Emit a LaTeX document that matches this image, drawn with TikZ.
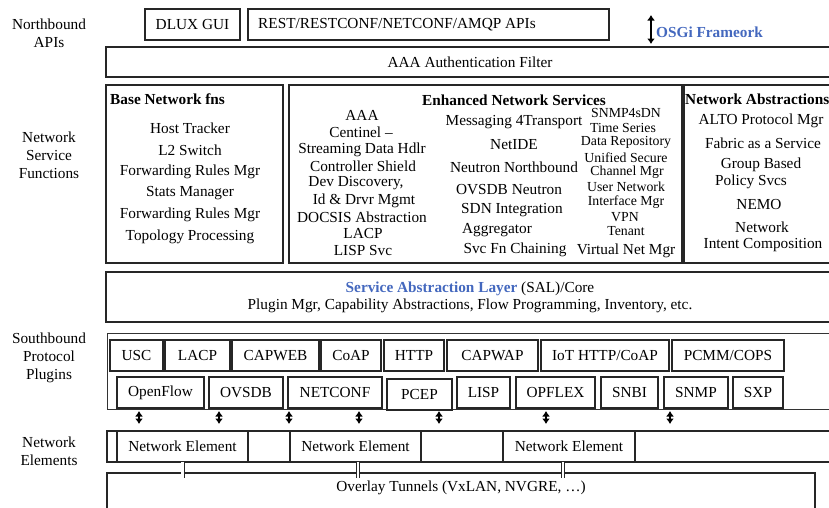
\documentclass[tikz,border=0pt]{standalone}
\usepackage{fontspec}
\setmainfont{Liberation Serif}
\usetikzlibrary{arrows.meta}
\definecolor{osgiblue}{RGB}{68,104,190}

\begin{document}
\begin{tikzpicture}[x = 1pt, y = -1pt,
    every node/.style = {font = \fontsize{15.3}{17}\selectfont, inner sep = 0pt},
    box/.style = {draw = black!85, line width = 2pt, outer sep = 0pt, anchor = north west},
    thinbox/.style = {draw = black!80, line width = 0.9pt, outer sep = 0pt, anchor = north west},
    ttl/.style = {font = \fontsize{15.3}{17}\selectfont\bfseries},
    tight/.style = {font = \fontsize{13.8}{15}\selectfont},
    side/.style = {align = center, font = \fontsize{15.3}{18}\selectfont},
    updown/.style = {{Latex[length = 5.5pt, width = 8pt]}-{Latex[length = 5.5pt, width = 8pt]}, line width = 2pt},
    tunnel/.style = {draw = black!85, double = white, double distance = 2.2pt, line width = 0.9pt}]
    \useasboundingbox (0,0) rectangle (829,507);

    % layer names on the left
    \node[side] (nbapi) at (49,33) {Northbound\\APIs};
    \node[side] (nsf) at (49,155) {Network\\Service\\Functions};
    \node[side] (sbp) at (49,358) {Southbound\\Protocol\\Plugins};
    \node[side] (nel) at (49,451) {Network\\Elements};

    % northbound
    \node[box, minimum width = 95, minimum height = 31] (dlux) at (145,9) {DLUX GUI};
    \node[box, minimum width = 361, minimum height = 31] (rest) at (248,9) {};
    \node[anchor = west] (resttxt) at (258,25) {REST/RESTCONF/NETCONF/AMQP APIs};
    \node[ttl, anchor = west, text = osgiblue] (osgi) at (656,32) {OSGi Frameork};
    \coordinate (osgitop) at (651,15);
    \coordinate (osgibot) at (651,44);
    \draw[updown] (osgitop) -- (osgibot);
    \node[box, minimum width = 728, minimum height = 30] (aaa) at (106,47) {AAA Authentication Filter};

    % network service functions
    \node[box, minimum width = 177, minimum height = 178] (base) at (106,85) {};
    \node[box, minimum width = 393, minimum height = 178] (enh) at (289,85) {};
    \node[box, minimum width = 150, minimum height = 178] (abs) at (684,85) {};
    \node[ttl, anchor = west] (basettl) at (110,99) {Base Network fns};
    \node[ttl] (enhttl) at (514,100) {Enhanced Network Services};
    \node[ttl, anchor = west] (absttl) at (685,99) {Network Abstractions};
    \foreach \fn [count = \i] in {Host Tracker, L2 Switch, Forwarding Rules Mgr,
        Stats Manager, Forwarding Rules Mgr, Topology Processing}
        \node (base\i) at (190, 106.2 + 21.8*\i) {\fn};
    \foreach \x/\y/\fn [count = \i] in {362/115/AAA, 361/132/Centinel –,
        362/150/Streaming Data Hdlr, 363/166/Controller Shield, 356/183/{Dev Discovery,},
        364/201/Id \& Drvr Mgmt, 362/217/DOCSIS Abstraction, 363/234/LACP, 363/251/LISP Svc}
        \node (enha\i) at (\x,\y) {\fn};
    \foreach \x/\y/\fn [count = \i] in {514/122/Messaging 4Transport, 514/145/NetIDE,
        514/167/Neutron Northbound, 509/190/OVSDB Neutron, 512/210/SDN Integration,
        497/230/Aggregator, 515/250/Svc Fn Chaining}
        \node (enhb\i) at (\x,\y) {\fn};
    \foreach \x/\y/\fn [count = \i] in {626/113/SNMP4sDN, 623/127.8/Time Series,
        626/142.6/Data Repository, 626/157.4/Unified Secure, 627/172.2/Channel Mgr,
        626/187/User Network, 626/201.8/Interface Mgr, 625/216.6/VPN, 626/231.4/Tenant}
        \node[tight] (enhc\i) at (\x,\y) {\fn};
    \node (enhc10) at (626,251) {Virtual Net Mgr};
    \foreach \x/\y/\fn [count = \i] in {761/121/ALTO Protocol Mgr, 763/143/Fabric as a Service,
        761/165/Group Based, 751/182/Policy Svcs, 759/205/NEMO, 762/227/Network,
        763/245/Intent Composition}
        \node (abs\i) at (\x,\y) {\fn};

    % SAL
    \node[box, minimum width = 728, minimum height = 50, align = center] (sal) at (106,272)
        {{\bfseries\color{osgiblue}Service Abstraction Layer} (SAL)/Core\\
         Plugin Mgr, Capability Abstractions, Flow Programming, Inventory, etc.};

    % southbound plugins
    \node[thinbox, minimum width = 727, minimum height = 76] (sbi) at (107,333) {};
    \foreach \x/\w/\fn [count = \i] in {110/53/USC, 165/65/LACP, 232/87/CAPWEB,
        321/60/CoAP, 384/60/HTTP, 447/91/CAPWAP, 541/128/{IoT HTTP/CoAP}, 672/112/{PCMM/COPS}}
        \node[box, minimum width = \w, minimum height = 31] (pa\i) at (\x,340) {\fn};
    \foreach \x/\y/\w/\fn [count = \i] in {117/377/87/OpenFlow, 209/377/74/OVSDB,
        288/377/94/NETCONF, 387/379/65/PCEP, 457/377/53/LISP, 516/377/79/OPFLEX,
        601/377/57/SNBI, 664/377/64/SNMP, 733/377/50/SXP}
        \node[box, minimum width = \w, minimum height = 31] (pb\i) at (\x,\y) {\fn};
    \foreach \x [count = \i] in {139, 219, 289, 359, 439, 546, 670} {
        \coordinate (up\i) at (\x,411);
        \coordinate (dn\i) at (\x,424);
        \draw[updown] (up\i) -- (dn\i);
    }

    % network elements
    \node[box, minimum width = 727, minimum height = 31] (nebar) at (107,431) {};
    \foreach \x/\w [count = \i] in {117/131, 290/131, 503/132}
        \node[box, minimum width = \w, minimum height = 31] (ne\i) at (\x,431) {Network Element};
    \node[box, minimum width = 708, minimum height = 45] (ovl) at (107,473) {};
    \node (ovltxt) at (461,488) {Overlay Tunnels (VxLAN, NVGRE, …)};
    \foreach \dx [count = \i] in {0, 2.5, -6}
        \draw[tunnel] ([xshift = \dx]ne\i.south) -- ([xshift = \dx, yshift = -16]ne\i.south);
\end{tikzpicture}
\end{document}
